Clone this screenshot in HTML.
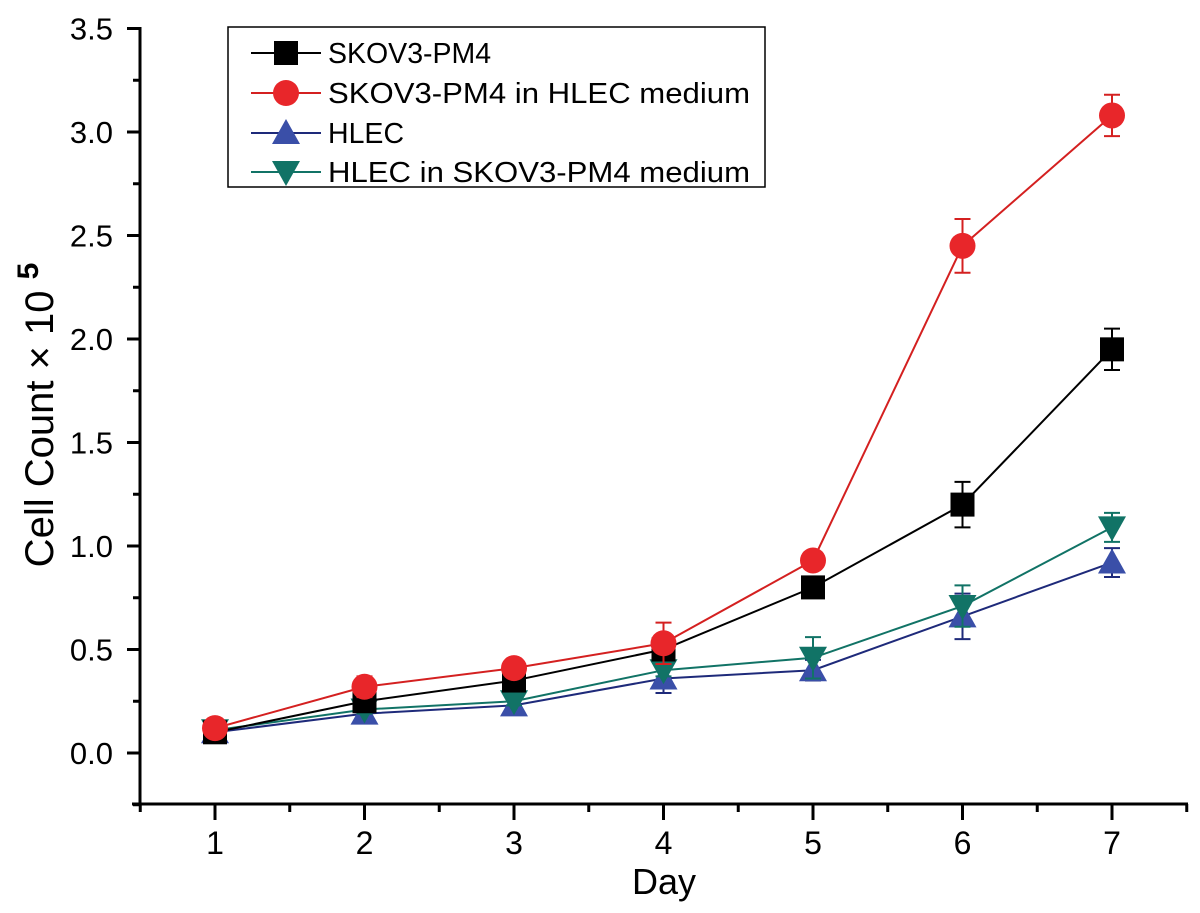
<!DOCTYPE html>
<html><head><meta charset="utf-8"><style>body{margin:0;background:#fff}svg{display:block;font-family:"Liberation Sans",sans-serif}</style></head>
<body>
<svg id="chart" width="1200" height="913"></svg>
<script>
const days=[1,2,3,4,5,6,7];
const yTicks=[0.0,0.5,1.0,1.5,2.0,2.5,3.0,3.5];
const skov=[0.10,0.25,0.35,0.50,0.80,1.20,1.95];
const skovErr=[0.03,0.03,0.03,0.03,0.05,0.11,0.10];
const skovHl=[0.12,0.32,0.41,0.53,0.93,2.45,3.08];
const skovHlErr=[0.02,0.05,0.02,0.10,0.02,0.13,0.10];
const hlec=[0.10,0.19,0.23,0.36,0.40,0.66,0.92];
const hlecErr=[0.03,0.04,0.03,0.07,0.05,0.11,0.07];
const hlecSk=[0.11,0.21,0.25,0.40,0.46,0.71,1.09];
const hlecSkErr=[0.03,0.02,0.02,0.03,0.10,0.10,0.07];
const labels=["SKOV3-PM4","SKOV3-PM4 in HLEC medium","HLEC","HLEC in SKOV3-PM4 medium"];

const NS="http://www.w3.org/2000/svg";
const svg=document.getElementById('chart');
const X=d=>215+(d-1)*149.5;
const Y=v=>753-v*207;
function mk(tag,attrs,parent){const e=document.createElementNS(NS,tag);for(const k in attrs)e.setAttribute(k,attrs[k]);(parent||svg).appendChild(e);return e;}

let ax=mk('line',{x1:140,y1:27,x2:140,y2:805,stroke:'#000','stroke-width':3});


ax=mk('line',{x1:132,y1:804,x2:1188,y2:804,stroke:'#000','stroke-width':3});


yTicks.forEach(t=>{
  mk('line',{x1:127,y1:Y(t),x2:140,y2:Y(t),stroke:'#000','stroke-width':3});
  mk('line',{x1:133,y1:Y(t+0.25),x2:140,y2:Y(t+0.25),stroke:'#000','stroke-width':3});
  const tx=mk('text',{x:113,y:Y(t)+11,'text-anchor':'end','font-size':31});
  tx.textContent=t.toFixed(1);
  
  
});
mk('line',{x1:133,y1:Y(-0.25),x2:140,y2:Y(-0.25),stroke:'#000','stroke-width':3});
days.forEach(d=>{
  mk('line',{x1:X(d),y1:804,x2:X(d),y2:820,stroke:'#000','stroke-width':3});
  mk('line',{x1:X(d-0.5),y1:804,x2:X(d-0.5),y2:812,stroke:'#000','stroke-width':3});
  const tx=mk('text',{x:X(d),y:854,'text-anchor':'middle','font-size':32});
  tx.textContent=d;
  
  
});
mk('line',{x1:X(7.5),y1:804,x2:X(7.5),y2:812,stroke:'#000','stroke-width':3});
let t=mk('text',{x:664,y:894,'text-anchor':'middle','font-size':36});
t.textContent='Day';


t=mk('text',{x:0,y:0,'text-anchor':'middle','font-size':40,transform:'translate(53,415) rotate(-90)'});
t.innerHTML='Cell Count × 10 <tspan dy="-15" font-size="30" font-weight="bold">5</tspan>';



function marker(type,x,y,color,g){
  if(type==='sq')return mk('rect',{x:x-12,y:y-12,width:24,height:24,fill:color},g);
  if(type==='ci')return mk('circle',{cx:x,cy:y,r:13,fill:color},g);
  if(type==='up')return mk('polygon',{points:`${x},${y-14} ${x-14},${y+11} ${x+14},${y+11}`,fill:color},g);
  return mk('polygon',{points:`${x},${y+14} ${x-14},${y-11} ${x+14},${y-11}`,fill:color},g);
}
const series=[
 {v:hlec,e:hlecErr,c:'#3a4fa8',l:'#1e2a7a',m:'up',n:'hlec'},
 {v:hlecSk,e:hlecSkErr,c:'#117366',l:'#117366',m:'dn',n:'hlec-in-skov3-medium'},
 {v:skov,e:skovErr,c:'#000',l:'#000',m:'sq',n:'skov3-pm4'},
 {v:skovHl,e:skovHlErr,c:'#e8262a',l:'#d42020',m:'ci',n:'skov3-pm4-in-hlec-medium'}
];
series.forEach(s=>{
  const g=mk('g',{});
  
  
  const ln=mk('polyline',{points:days.map((d,i)=>X(d)+','+Y(s.v[i])).join(' '),fill:'none',stroke:s.l,'stroke-width':2},g);
  
  
  days.forEach((d,i)=>{
    const x=X(d),hi=Y(s.v[i]+s.e[i]),lo=Y(s.v[i]-s.e[i]);
    mk('path',{d:`M${x},${hi}V${lo}M${x-8},${hi}H${x+8}M${x-8},${lo}H${x+8}`,stroke:s.l,'stroke-width':2,fill:'none'},g);
    const m=marker(s.m,x,Y(s.v[i]),s.c,g);
    
    
  });
});

const lg=mk('g',{});


mk('rect',{x:228,y:27,width:537,height:160,fill:'#fff',stroke:'#000','stroke-width':1.5},lg);
const legOrder=[2,3,0,1],legY=[53,93,133,172];
legOrder.forEach((si,k)=>{
  const s=series[si],y=legY[k];
  const e=mk('g',{},lg);
  
  
  mk('line',{x1:251,y1:y,x2:321,y2:y,stroke:s.l,'stroke-width':2},e);
  marker(s.m,286,y,s.c,e);
  const tx=mk('text',{x:328,y:y+10,'font-size':28.5},e);
  if(labels[k].length>15){tx.setAttribute('textLength',422);tx.setAttribute('lengthAdjust','spacingAndGlyphs');}
  tx.textContent=labels[k];
});
</script>
</body></html>
